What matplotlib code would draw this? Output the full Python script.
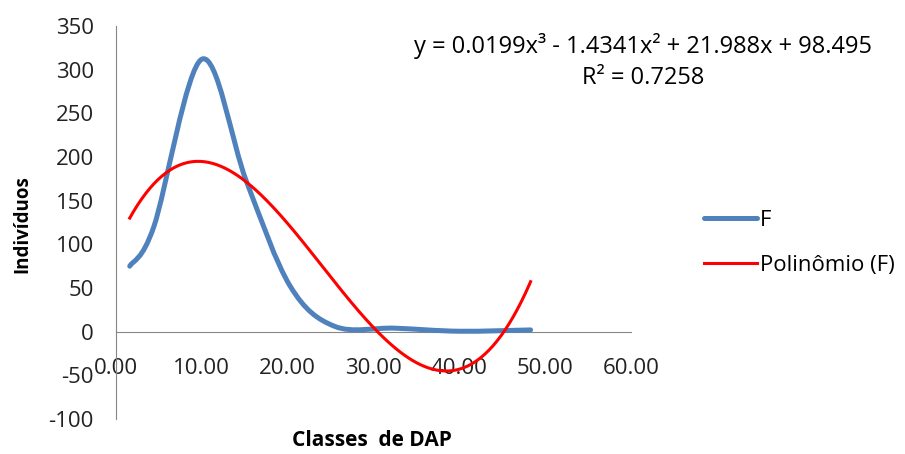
import numpy as np
import matplotlib.pyplot as plt
from matplotlib.path import Path
from matplotlib.patches import PathPatch
from matplotlib.lines import Line2D

plt.rcParams['font.family'] = ['Open Sans', 'DejaVu Sans']
plt.rcParams['axes.unicode_minus'] = False

# data
dap = [1.6, 4.4, 10.0, 15.2, 20.3, 25.5, 32.5, 40.0, 48.3]
freq = [75, 120, 312, 172, 52, 6, 4, 0.5, 2]

# trendline coefficients shown on the chart (x^3, x^2, x, const)
coefs = [0.0199, -1.4341, 21.988, 98.495]
r2 = 0.7258

blue = '#4F81BD'
red = '#FF0000'
grey = '#868686'

fig = plt.figure(figsize=(9.05, 4.54), dpi=100)
ax = fig.add_axes([116 / 905, 1 - 419 / 454, 515 / 905, 393 / 454])

# smoothed line like Excel: catmull-rom as bezier segments
pts = np.column_stack([dap, freq])
verts = [pts[0]]
codes = [Path.MOVETO]
n = len(pts)
for i in range(n - 1):
    p0 = pts[i - 1] if i > 0 else pts[i]
    p1 = pts[i]
    p2 = pts[i + 1]
    p3 = pts[i + 2] if i + 2 < n else pts[i + 1]
    verts += [p1 + (p2 - p0) / 6, p2 - (p3 - p1) / 6, p2]
    codes += [Path.CURVE4] * 3
ax.add_patch(PathPatch(Path(verts, codes), facecolor='none', edgecolor=blue,
                       lw=3.6, capstyle='round', joinstyle='round', zorder=3))

# polynomial trendline
xt = np.linspace(dap[0], dap[-1], 300)
ax.plot(xt, np.polyval(coefs, xt), color=red, lw=2.2, zorder=4)

ax.set_xlim(0, 60)
ax.set_ylim(-100, 350)
ax.set_xticks(np.arange(0, 61, 10))
ax.set_xticklabels([f'{v:.2f}' for v in np.arange(0, 61, 10)])
ax.set_yticks(np.arange(-100, 351, 50))

for s in ['top', 'right']:
    ax.spines[s].set_visible(False)
ax.spines['bottom'].set_position(('data', 0))
ax.spines['bottom'].set_color(grey)
ax.spines['left'].set_color(grey)
ax.tick_params(axis='x', length=0, pad=19, labelsize=16, colors='#222222')
ax.tick_params(axis='y', length=0, pad=16, labelsize=16, colors='#222222')

fig.text(22 / 905, 1 - 224 / 454, 'Indivíduos', rotation=90, fontsize=13.5,
         fontweight='bold', ha='center', va='center')
fig.text(372 / 905, 1 - 440 / 454, 'Classes  de DAP', fontsize=15,
         fontweight='bold', ha='center', va='center')

fig.text(643 / 905, 1 - 46 / 454,
         'y = 0.0199x³ - 1.4341x² + 21.988x + 98.495',
         fontsize=17, ha='center', va='center')
fig.text(643 / 905, 1 - 78 / 454, f'R² = {r2}', fontsize=17,
         ha='center', va='center')

handles = [Line2D([], [], color=blue, lw=3.6, solid_capstyle='round'),
           Line2D([], [], color=red, lw=2.2)]
fig.legend(handles, ['F', 'Polinômio (F)'], loc='center left',
           bbox_to_anchor=(684 / 905, 1 - 243 / 454), frameon=False,
           fontsize=16, handlelength=2.4, handletextpad=0.1, labelspacing=1.1)

fig.savefig('out.png', dpi=100)
